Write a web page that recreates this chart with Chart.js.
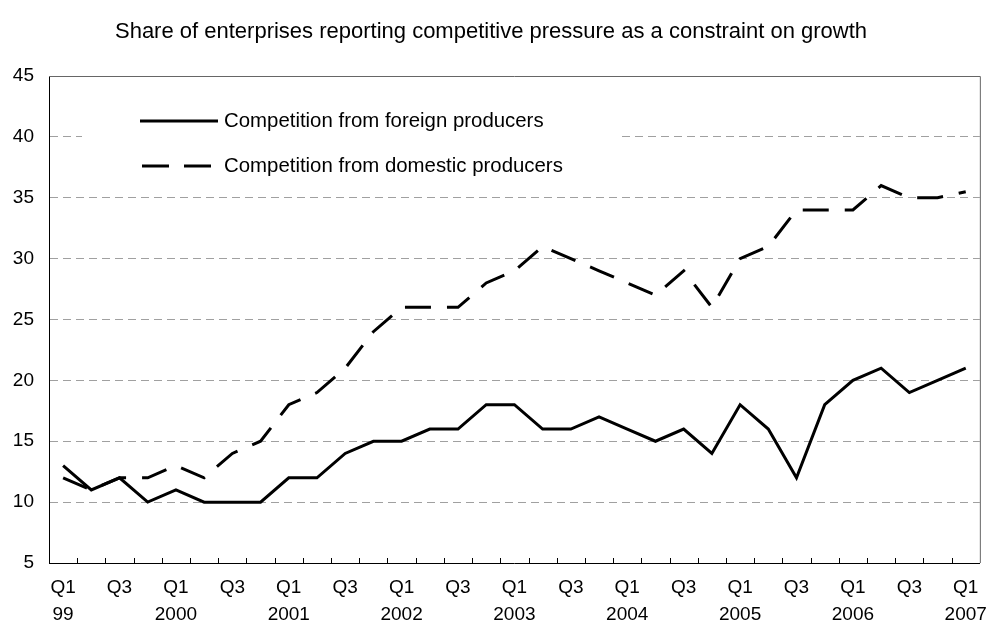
<!DOCTYPE html>
<html>
<head>
<meta charset="utf-8">
<script src="https://cdn.jsdelivr.net/npm/chart.js@4"></script>
<style>
  html, body { margin: 0; padding: 0; background: #fff; }
  #wrap { width: 990px; height: 630px; }
</style>
</head>
<body>
<div id="wrap"><canvas id="myChart" width="990" height="630"></canvas></div>
<script>
const quarters = [
  '1999Q1','1999Q2','1999Q3','1999Q4',
  '2000Q1','2000Q2','2000Q3','2000Q4',
  '2001Q1','2001Q2','2001Q3','2001Q4',
  '2002Q1','2002Q2','2002Q3','2002Q4',
  '2003Q1','2003Q2','2003Q3','2003Q4',
  '2004Q1','2004Q2','2004Q3','2004Q4',
  '2005Q1','2005Q2','2005Q3','2005Q4',
  '2006Q1','2006Q2','2006Q3','2006Q4',
  '2007Q1'
];
// labels shown under every second quarter
const tickLabels = [
  ['Q1', '99'], ['Q3', ''], ['Q1', '2000'], ['Q3', ''], ['Q1', '2001'], ['Q3', ''],
  ['Q1', '2002'], ['Q3', ''], ['Q1', '2003'], ['Q3', ''], ['Q1', '2004'], ['Q3', ''],
  ['Q1', '2005'], ['Q3', ''], ['Q1', '2006'], ['Q3', ''], ['Q1', '2007']
];
const foreign = [13, 11, 12, 10, 11, 10, 10, 10, 12, 12, 14, 15, 15, 16, 16, 18, 18,
                 16, 16, 17, 16, 15, 16, 14, 18, 16, 12, 18, 20, 21, 19, 20, 21];
const domestic = [12, 11, 12, 12, 13, 12, 14, 15, 18, 19, 21, 24, 26, 26, 26, 28, 29,
                  31, 30, 29, 28, 27, 29, 26, 30, 31, 34, 34, 34, 36, 35, 35, 35.5];
const seriesNames = ['Competition from foreign producers', 'Competition from domestic producers'];
const chartTitle = 'Share of enterprises reporting competitive pressure as a constraint on growth';

const FONT = 'Arial, "Liberation Sans", sans-serif';
const DASH = [26, 16];

// inward ticks on the x axis, top/right frame and the legend box
const extras = {
  id: 'extras',
  afterDatasetsDraw(chart) {
    const ctx = chart.ctx;
    const area = chart.chartArea;
    const x = chart.scales.x;
    ctx.save();
    ctx.strokeStyle = '#000';
    ctx.lineWidth = 1;
    for (let i = 0; i < quarters.length - 1; i++) {
      const px = Math.round((x.getPixelForValue(i) + x.getPixelForValue(i + 1)) / 2) + 0.5;
      ctx.beginPath();
      ctx.moveTo(px, area.bottom);
      ctx.lineTo(px, area.bottom - 5);
      ctx.stroke();
    }
    ctx.strokeStyle = '#666';
    ctx.beginPath();
    ctx.moveTo(area.left, area.top + 0.5);
    ctx.lineTo(area.right + 0.5, area.top + 0.5);
    ctx.lineTo(area.right + 0.5, area.bottom);
    ctx.stroke();

    // legend
    ctx.fillStyle = '#fff';
    ctx.fillRect(82, 100, 540, 86);
    ctx.strokeStyle = '#000';
    ctx.lineWidth = 3;
    ctx.beginPath();
    ctx.moveTo(140, 121);
    ctx.lineTo(218, 121);
    ctx.stroke();
    ctx.setLineDash([27, 15]);
    ctx.beginPath();
    ctx.moveTo(142, 166);
    ctx.lineTo(212, 166);
    ctx.stroke();
    ctx.setLineDash([]);
    ctx.fillStyle = '#000';
    ctx.font = '20.4px ' + FONT;
    ctx.textBaseline = 'middle';
    ctx.fillText(seriesNames[0], 224, 121);
    ctx.fillText(seriesNames[1], 224, 166);
    ctx.restore();
  }
};

const ctx = document.getElementById('myChart');
new Chart(ctx, {
  type: 'line',
  data: {
    labels: quarters,
    datasets: [{
      label: seriesNames[0],
      data: foreign,
      borderColor: '#000',
      borderWidth: 3,
      pointRadius: 0,
      tension: 0,
      fill: false
    }, {
      label: seriesNames[1],
      data: domestic,
      borderColor: '#000',
      borderWidth: 3,
      borderDash: DASH,
      pointRadius: 0,
      tension: 0,
      fill: false
    }]
  },
  options: {
    responsive: false,
    animation: false,
    layout: { padding: { left: 0, right: 8, top: 0, bottom: 0 } },
    plugins: {
      legend: { display: false },
      tooltip: { enabled: false },
      title: {
        display: true,
        text: chartTitle,
        color: '#000',
        font: { family: FONT, size: 22, weight: 'normal' },
        padding: { top: 19, bottom: 30.6 }
      }
    },
    scales: {
      x: {
        offset: true,
        grid: { display: false },
        border: { color: '#000', width: 1 },
        afterFit(scale) { scale.height = 67; },
        ticks: {
          autoSkip: false,
          maxRotation: 0,
          padding: 3,
          color: '#000',
          font: { family: FONT, size: 19, lineHeight: 1.42 },
          callback(value, index) {
            return index % 2 === 0 ? tickLabels[index / 2] : null;
          }
        }
      },
      y: {
        min: 5,
        max: 45,
        afterFit(scale) { scale.width = 49; },
        border: { color: '#000', width: 1, dash: [8, 5] },
        grid: {
          drawTicks: false,
          lineWidth: 1,
          color(c) {
            const v = c.tick.value;
            return (v === 5 || v === 45) ? 'rgba(0,0,0,0)' : '#a0a0a0';
          }
        },
        ticks: {
          stepSize: 5,
          padding: 15,
          color: '#000',
          font: { family: FONT, size: 19 }
        }
      }
    }
  },
  plugins: [extras]
});
</script>
</body>
</html>
